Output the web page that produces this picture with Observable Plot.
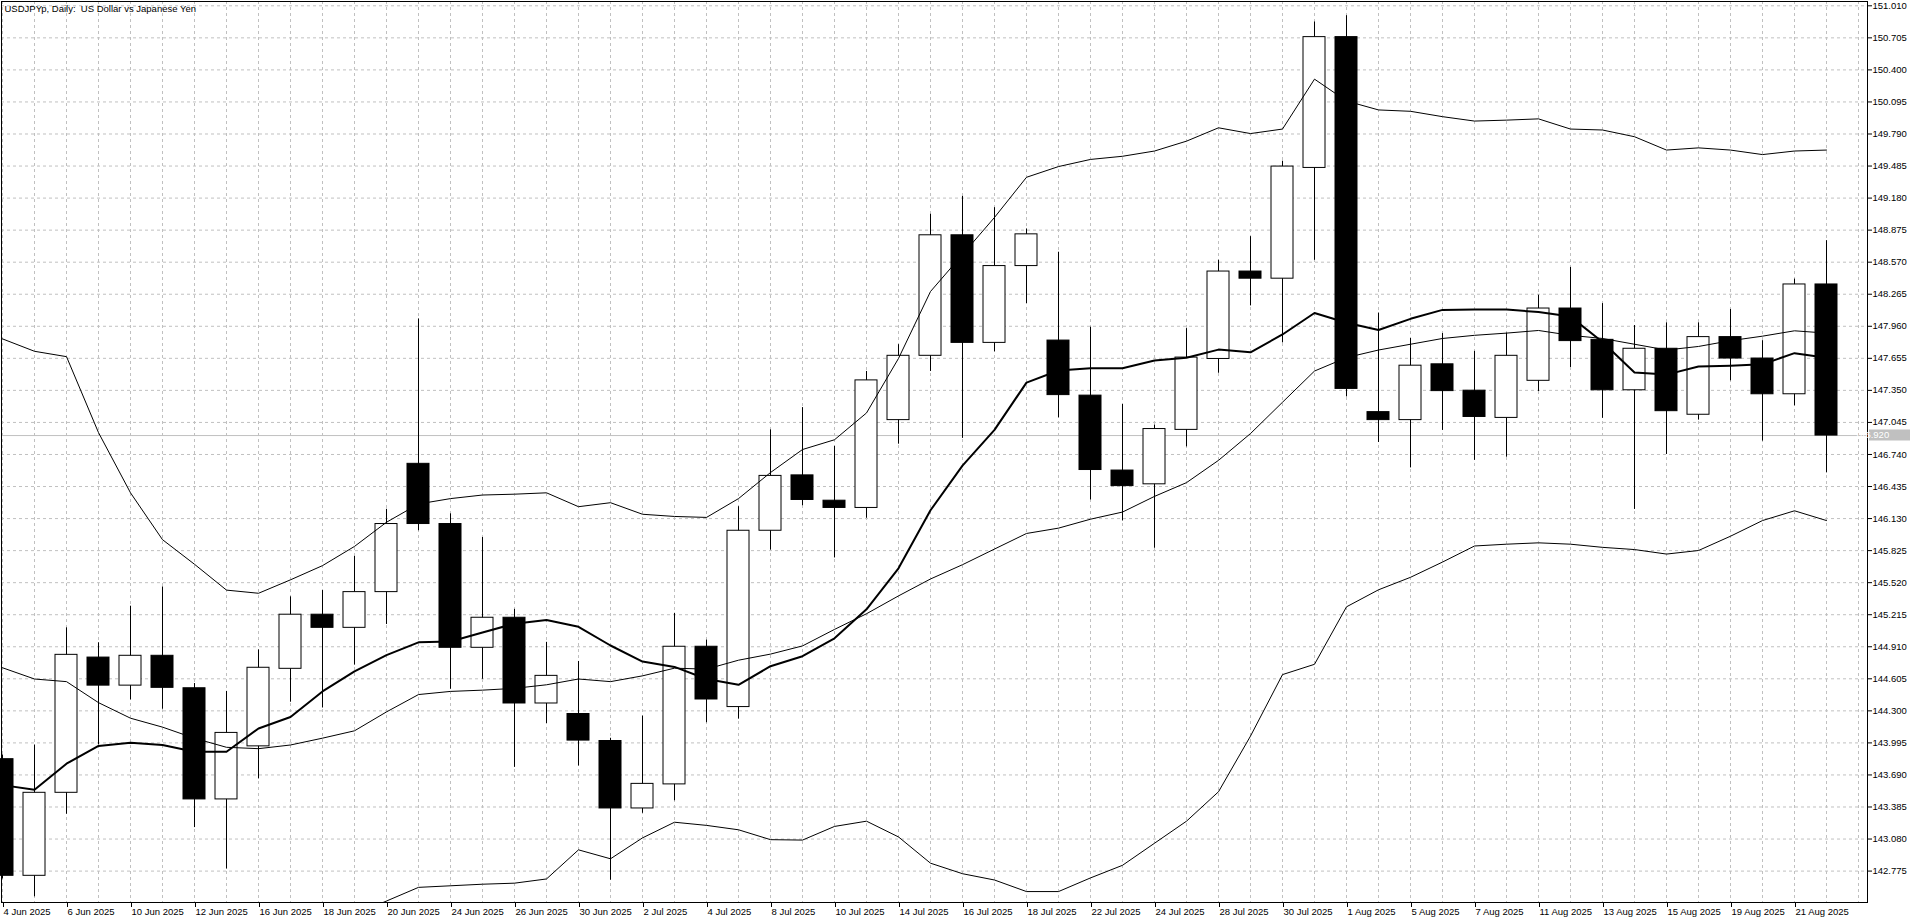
<!DOCTYPE html>
<html>
<head>
<meta charset="utf-8">
<script src="https://cdn.jsdelivr.net/npm/d3@7"></script>
<script src="https://cdn.jsdelivr.net/npm/@observablehq/plot@0.6"></script>
<style>
html, body { margin: 0; padding: 0; background: #fff; overflow: hidden; }
#chart svg { display: block; }
</style>
</head>
<body>
<div id="chart"></div>
<script>
const title = "USDJPYp, Daily:  US Dollar vs Japanese Yen";

const dates = ["4 Jun 2025","5 Jun 2025","6 Jun 2025","9 Jun 2025","10 Jun 2025","11 Jun 2025","12 Jun 2025","13 Jun 2025","16 Jun 2025","17 Jun 2025","18 Jun 2025","19 Jun 2025","20 Jun 2025","23 Jun 2025","24 Jun 2025","25 Jun 2025","26 Jun 2025","27 Jun 2025","30 Jun 2025","1 Jul 2025","2 Jul 2025","3 Jul 2025","4 Jul 2025","7 Jul 2025","8 Jul 2025","9 Jul 2025","10 Jul 2025","11 Jul 2025","14 Jul 2025","15 Jul 2025","16 Jul 2025","17 Jul 2025","18 Jul 2025","21 Jul 2025","22 Jul 2025","23 Jul 2025","24 Jul 2025","25 Jul 2025","28 Jul 2025","29 Jul 2025","30 Jul 2025","31 Jul 2025","1 Aug 2025","4 Aug 2025","5 Aug 2025","6 Aug 2025","7 Aug 2025","8 Aug 2025","11 Aug 2025","12 Aug 2025","13 Aug 2025","14 Aug 2025","15 Aug 2025","18 Aug 2025","19 Aug 2025","20 Aug 2025","21 Aug 2025","22 Aug 2025"];

const open  = [143.840,142.730,143.520,144.807,144.540,144.824,144.515,143.457,143.962,144.700,145.215,145.090,145.430,146.651,146.078,144.900,145.186,144.370,144.270,144.013,143.371,143.600,144.910,144.336,146.014,146.541,146.300,146.231,147.067,147.679,148.826,147.802,148.533,147.824,147.300,146.587,146.456,146.974,147.649,148.481,148.413,149.467,150.712,147.143,147.067,147.598,147.347,147.088,147.441,148.129,147.831,147.351,147.746,147.118,147.857,147.653,147.313,148.358];
const high  = [143.880,143.975,145.090,144.948,145.296,145.479,144.560,144.485,144.880,145.385,145.445,145.770,146.218,148.030,146.175,145.950,145.266,144.952,144.770,144.039,144.250,145.228,144.973,146.243,146.974,147.186,146.817,147.530,147.785,149.026,149.196,149.089,148.886,148.665,147.951,147.216,147.020,147.938,148.588,148.813,149.531,150.856,150.916,148.086,147.844,147.891,147.721,147.895,148.256,148.520,148.176,147.967,147.993,147.993,148.120,147.823,148.409,148.775];
const low   = [142.700,142.530,143.316,143.975,144.404,144.315,143.189,142.794,143.652,144.382,144.327,144.735,145.122,146.014,144.505,144.600,143.762,144.179,143.775,142.688,143.325,143.444,144.187,144.221,145.830,146.252,145.755,146.133,146.838,147.530,146.893,147.717,148.176,147.089,146.307,146.107,145.848,146.812,147.513,148.154,147.802,148.588,147.288,146.854,146.612,146.969,146.684,146.714,147.339,147.568,147.084,146.217,146.740,147.067,147.441,146.867,147.203,146.565];
const close = [142.730,143.520,144.833,144.540,144.824,144.519,143.457,144.090,144.710,145.215,145.090,145.430,146.078,146.078,144.900,145.186,144.370,144.633,144.017,143.371,143.605,144.910,144.408,146.014,146.536,146.307,146.231,147.445,147.679,148.826,147.802,148.533,148.835,147.305,146.592,146.439,146.982,147.662,148.481,148.413,149.480,150.712,147.364,147.067,147.585,147.343,147.097,147.679,148.129,147.819,147.351,147.746,147.152,147.857,147.653,147.313,148.358,146.920];

const maLine   = [143.593,143.550,143.797,143.966,143.996,143.975,143.911,143.911,144.132,144.242,144.485,144.676,144.830,144.952,144.960,145.045,145.130,145.164,145.100,144.922,144.769,144.718,144.603,144.548,144.725,144.820,144.990,145.266,145.657,146.209,146.634,146.974,147.424,147.539,147.560,147.560,147.635,147.661,147.738,147.712,147.882,148.086,147.993,147.925,148.031,148.116,148.120,148.120,148.095,148.052,147.810,147.521,147.500,147.577,147.585,147.598,147.704,147.661];
const bbUpper  = [147.840,147.722,147.671,146.948,146.375,145.929,145.695,145.449,145.419,145.547,145.682,145.865,146.095,146.269,146.320,146.354,146.362,146.375,146.243,146.281,146.171,146.150,146.141,146.320,146.568,146.787,146.880,147.135,147.654,148.291,148.643,148.996,149.378,149.480,149.548,149.578,149.628,149.722,149.849,149.794,149.837,150.312,150.104,150.019,150.006,149.955,149.913,149.922,149.934,149.837,149.828,149.764,149.637,149.658,149.637,149.594,149.628,149.637];
const bbMiddle = [144.710,144.603,144.578,144.378,144.230,144.145,144.039,143.953,143.940,143.975,144.040,144.110,144.290,144.455,144.485,144.497,144.514,144.548,144.603,144.578,144.633,144.706,144.697,144.782,144.840,144.918,145.075,145.224,145.394,145.555,145.691,145.840,145.988,146.039,146.124,146.192,146.341,146.472,146.684,146.939,147.237,147.534,147.662,147.734,147.789,147.844,147.874,147.895,147.920,147.874,147.844,147.789,147.734,147.768,147.823,147.866,147.917,147.895];
// lower band: below the visible range before 19 Jun (null = not drawn)
const bbLower  = [null,null,null,null,null,null,null,null,null,null,null,142.360,142.490,142.620,142.635,142.650,142.660,142.700,142.977,142.892,143.091,143.240,143.210,143.168,143.074,143.070,143.200,143.250,143.100,142.850,142.750,142.690,142.580,142.580,142.710,142.830,143.040,143.250,143.530,144.060,144.645,144.743,145.290,145.452,145.571,145.716,145.869,145.886,145.899,145.886,145.856,145.835,145.792,145.826,145.962,146.111,146.204,146.111];

const yTicks = [142.775,143.080,143.385,143.690,143.995,144.300,144.605,144.910,145.215,145.520,145.825,146.130,146.435,146.740,147.045,147.350,147.655,147.960,148.265,148.570,148.875,149.180,149.485,149.790,150.095,150.400,150.705,151.010];
const lastPrice = 146.920;

const bars = dates.map((date, i) => ({i, date, open: open[i], high: high[i], low: low[i], close: close[i]}));
const xTicks = dates.map((d, i) => i).filter(i => i % 2 === 0);
const gridBars = d3.range(0, dates.length + 1);

const W = 1920, H = 923;
const FONT = "'Liberation Sans', Arial, sans-serif";
const GRID = "#c0c0c0";
const halfBody = 11 / 32;

const plot = Plot.plot({
  width: W,
  height: H,
  marginLeft: 1,
  marginRight: 53,
  marginTop: 1,
  marginBottom: 21,
  style: {fontFamily: FONT, fontSize: "9.5px", background: "#fff", color: "#000", overflow: "visible"},
  x: {type: "linear", domain: [-1 / 32, 1865 / 32]},
  y: {type: "linear", domain: [142.476, 151.051]},
  marks: [
    Plot.ruleX(gridBars, {x: d => d, stroke: GRID, strokeDasharray: "3,3"}),
    Plot.ruleY(yTicks, {y: d => d, stroke: GRID, strokeDasharray: "3,3"}),
    Plot.ruleY([lastPrice], {y: d => d, stroke: GRID}),
    Plot.ruleX(bars, {x: "i", y1: "low", y2: "high", stroke: "#000", strokeWidth: 1}),
    Plot.rect(bars, {
      x1: d => d.i - halfBody,
      x2: d => d.i + halfBody,
      y1: "open",
      y2: "close",
      fill: d => (d.close >= d.open ? "#ffffff" : "#000000"),
      stroke: "#000",
      strokeWidth: 1
    }),
    Plot.line(bbUpper, {x: (d, i) => i, y: d => d, stroke: "#000", strokeWidth: 1, clip: true}),
    Plot.line(bbMiddle, {x: (d, i) => i, y: d => d, stroke: "#000", strokeWidth: 1, clip: true}),
    Plot.line(bbLower, {x: (d, i) => i, y: d => d, stroke: "#000", strokeWidth: 1, clip: true}),
    Plot.line(maLine, {x: (d, i) => i, y: d => d, stroke: "#000", strokeWidth: 2, clip: true}),
    Plot.frame({stroke: "#000"}),
    Plot.axisY({anchor: "right", ticks: yTicks, tickFormat: d => d.toFixed(3), tickSize: 4, tickPadding: 1, label: null, fontSize: 9.5}),
    Plot.axisX({anchor: "bottom", ticks: xTicks, tickFormat: i => dates[i], tickSize: 5, tickPadding: 1, textAnchor: "start", dx: 1, label: null, fontSize: 9.5}),
    Plot.text([title], {text: d => d, frameAnchor: "top-left", dx: 3, dy: 4, textAnchor: "start", fill: "#000", fontSize: 9.5})
  ]
});

document.getElementById("chart").appendChild(plot);

// current price label on the price axis
const svg = d3.select(plot);
svg.selectAll("text").style("white-space", "pre");
const yPx = plot.scale("y").apply(lastPrice);
const xAxisRight = W - 53;
const g = svg.append("g");
g.append("rect")
  .attr("x", xAxisRight + 2)
  .attr("y", Math.round(yPx) - 5.5)
  .attr("width", 41)
  .attr("height", 11)
  .attr("fill", "#c0c0c0");
g.append("text")
  .attr("x", xAxisRight + 5)
  .attr("y", yPx)
  .attr("dy", "0.35em")
  .attr("font-family", FONT)
  .attr("font-size", 9.5)
  .attr("fill", "#ffffff")
  .text(lastPrice.toFixed(3));
</script>
</body>
</html>
